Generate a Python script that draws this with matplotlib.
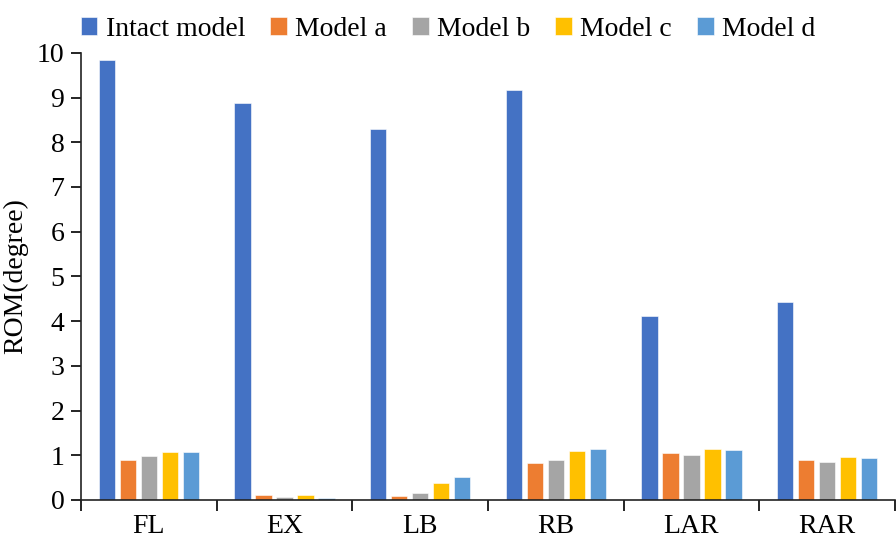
import matplotlib.pyplot as plt
from matplotlib.patches import Patch
import numpy as np

plt.rcParams['font.family'] = ['Liberation Serif', 'DejaVu Serif']

# Data
categories = ['FL', 'EX', 'LB', 'RB', 'LAR', 'RAR']
series_names = ['Intact model', 'Model a', 'Model b', 'Model c', 'Model d']
intact = [9.84, 8.88, 8.30, 9.17, 4.12, 4.43]
model_a = [0.89, 0.12, 0.10, 0.82, 1.04, 0.90]
model_b = [0.98, 0.06, 0.16, 0.89, 1.01, 0.86]
model_c = [1.07, 0.12, 0.37, 1.10, 1.15, 0.96]
model_d = [1.07, 0.04, 0.51, 1.13, 1.12, 0.95]
colors = ['#4472C4', '#ED7D31', '#A5A5A5', '#FFC000', '#5B9BD5']

fig = plt.figure(figsize=(8.96, 5.44), dpi=100)
ax = fig.add_axes([0.0904, 0.0809, 0.9085, 0.822])

x = np.arange(len(categories))
step = 0.155
width = 0.12
all_series = [intact, model_a, model_b, model_c, model_d]
for i, (vals, c) in enumerate(zip(all_series, colors)):
    ax.bar(x + (i - 2) * step, vals, width, color=c, edgecolor='white', linewidth=0.4)

ax.set_xlim(-0.5, len(categories) - 0.5)
ax.set_ylim(0, 10)
ax.set_yticks(range(0, 11))
ax.tick_params(axis='y', labelsize=20, direction='out', length=7, width=1.2, pad=5)

# boundary ticks on x, labels at centres
ax.set_xticks(np.arange(-0.5, len(categories), 1.0))
ax.set_xticklabels([])
ax.set_xticks(x, minor=True)
ax.set_xticklabels(categories, minor=True, fontsize=20)
ax.tick_params(axis='x', which='major', direction='out', length=8, width=1.2)
ax.tick_params(axis='x', which='minor', length=0, pad=10)

for s in ['top', 'right']:
    ax.spines[s].set_visible(False)
for s in ['left', 'bottom']:
    ax.spines[s].set_linewidth(1.2)
    ax.spines[s].set_color('#222222')

ax.set_ylabel('ROM(degree)', fontsize=20, labelpad=6)

handles = [Patch(facecolor=c, edgecolor='white', linewidth=0.4) for c in colors]
fig.legend(handles, series_names, loc='upper center', bbox_to_anchor=(0.5, 1.015),
           ncol=5, frameon=False, fontsize=20, handlelength=0.6, handleheight=0.6,
           handletextpad=0.3, columnspacing=0.9)

fig.savefig('out.png', dpi=100)
